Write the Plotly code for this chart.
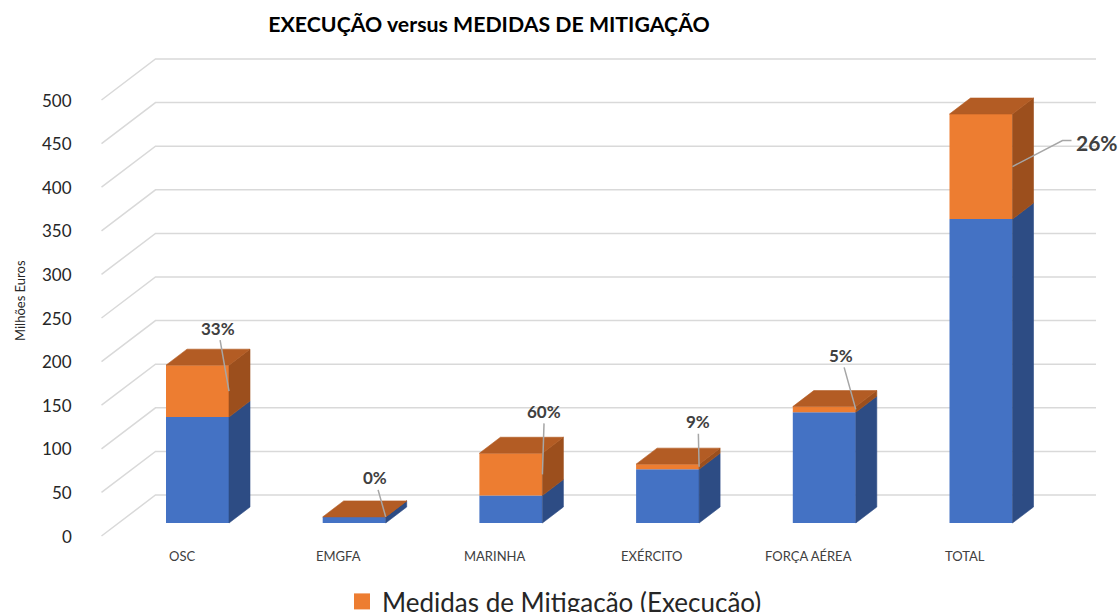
import plotly.graph_objects as go

# ---------------- data ----------------
categories = ["OSC", "EMGFA", "MARINHA", "EXÉRCITO", "FORÇA AÉREA", "TOTAL"]
execucao_restante = [121.5, 7.0, 31.5, 61.5, 127.0, 348.5]
medidas_mitigacao = [59.5, 0.0, 48.5, 6.0, 6.5, 120.5]
pct_labels = ["33%", "0%", "60%", "9%", "5%", "26%"]
y_ticks = [0, 50, 100, 150, 200, 250, 300, 350, 400, 450, 500]

# ---------------- geometry (pixel calibration) ----------------
PLOT_L, PLOT_R, PLOT_T, PLOT_B = 78, 1110, 40, 570
X0_PX, STEP_PX = 197.5, 156.7          # first bar centre, category spacing
FLOOR_PX, PPU = 523.0, 0.872           # bar floor pixel, pixels per unit
LABEL_FLOOR_PX = 536.0                 # front edge where tick labels sit
BAR_W_PX, DEPTH_DX_PX, DEPTH_DY_PX = 63.0, 21.0, 16.0
GRID_FRONT_X, GRID_BACK_X, GRID_RIGHT_X = 101.5, 155.5, 1096.0
GRID_BACK_RISE = 28.0                  # back wall above bar floor (px)
TICK_RIGHT_PX = 74.0


def xu(px):
    return (px - X0_PX) / STEP_PX


def yu(px):
    return (FLOOR_PX - px) / PPU


def xp(px):
    return (px - PLOT_L) / (PLOT_R - PLOT_L)


W = BAR_W_PX / STEP_PX
DX = DEPTH_DX_PX / STEP_PX
DY = DEPTH_DY_PX / PPU
FRONT_DROP = (LABEL_FLOOR_PX - FLOOR_PX) / PPU
BACK_RISE = GRID_BACK_RISE / PPU

FONT = "Lato"
BLUE, BLUE_SIDE = "#4472C4", "#2D4C84"
ORANGE, ORANGE_TOP, ORANGE_SIDE = "#ED7D31", "#B35C24", "#9C4F1D"
GRID = "#D9D9D9"
LEADER = "#A6A6A6"

idx = list(range(len(categories)))
tops_blue = execucao_restante
tops_total = [b + o for b, o in zip(execucao_restante, medidas_mitigacao)]

fig = go.Figure()

# front faces
fig.add_trace(go.Bar(x=idx, y=execucao_restante, base=[0] * len(idx), width=W,
                     marker=dict(color=BLUE, line=dict(width=0)),
                     name="Execução", showlegend=False, hoverinfo="skip"))
fig.add_trace(go.Bar(x=idx, y=medidas_mitigacao, base=execucao_restante, width=W,
                     marker=dict(color=ORANGE, line=dict(width=0)),
                     name="Medidas de Mitigação (Execução)", showlegend=False,
                     hoverinfo="skip"))


def side_poly(bottoms, tops):
    xs, ys = [], []
    for i, b, t in zip(idx, bottoms, tops):
        xr = i + W / 2
        xs += [xr, xr + DX, xr + DX, xr, xr, None]
        ys += [b, b + DY, t + DY, t, b, None]
    return xs, ys


def top_poly(tops):
    xs, ys = [], []
    for i, t in zip(idx, tops):
        xl, xr = i - W / 2, i + W / 2
        xs += [xl, xl + DX, xr + DX, xr, xl, None]
        ys += [t, t + DY, t + DY, t, t, None]
    return xs, ys


for (xs, ys), col in [
    (side_poly([0] * len(idx), tops_blue), BLUE_SIDE),
    (side_poly(tops_blue, tops_total), ORANGE_SIDE),
    (top_poly(tops_total), ORANGE_TOP),
]:
    fig.add_trace(go.Scatter(x=xs, y=ys, mode="lines", fill="toself",
                             fillcolor=col, line=dict(color=col, width=0.6),
                             showlegend=False, hoverinfo="skip"))

# legend entry (square marker)
fig.add_trace(go.Scatter(x=[None], y=[None], mode="markers",
                         marker=dict(symbol="square", size=16, color=ORANGE),
                         name="Medidas de Mitigação (Execução)", showlegend=True,
                         hoverinfo="skip"))

# gridlines (3D wall)
shapes = []
for v in y_ticks:
    path = (f"M {xu(GRID_FRONT_X)},{v - FRONT_DROP} "
            f"L {xu(GRID_BACK_X)},{v + BACK_RISE} "
            f"L {xu(GRID_RIGHT_X)},{v + BACK_RISE}")
    shapes.append(dict(type="path", path=path, xref="x", yref="y",
                       line=dict(color=GRID, width=1.5), layer="below"))

annotations = []
# y tick labels
for v in y_ticks:
    annotations.append(dict(x=xp(TICK_RIGHT_PX), y=v - FRONT_DROP, xref="paper",
                            yref="y", text=str(v), showarrow=False,
                            xanchor="right", yanchor="middle",
                            font=dict(family=FONT, size=17, color="#262626")))
# category labels
for i, c in zip(idx, categories):
    annotations.append(dict(x=i + xu(X0_PX - 16), y=yu(556), xref="x", yref="y",
                            text=c, showarrow=False, xanchor="center",
                            yanchor="middle",
                            font=dict(family=FONT, size=13, color="#404040")))

# percentage labels with leader lines
LABEL_OFFSETS = [(-11, -63), (-11, -39), (2, -63), (-1, -45), (-15, -54), None]
for i, b, o, t, off in zip(idx, execucao_restante, medidas_mitigacao,
                           pct_labels, LABEL_OFFSETS):
    if off is not None:
        ax_, ay_ = off
        annotations.append(dict(x=i + W / 2, y=b + o / 2, xref="x", yref="y",
                                text=f"<b>{t}</b>", showarrow=True, arrowhead=0,
                                arrowwidth=1.5, arrowcolor=LEADER, ax=ax_, ay=ay_,
                                standoff=0, startstandoff=0,
                                font=dict(family=FONT, size=17, color="#404040")))
    else:
        # elbow leader line for the large label
        x_a, y_a = i + W / 2, b + o / 2
        x_e, y_e = x_a + 50 / STEP_PX, y_a + 26 / PPU
        x_f = x_e + 9 / STEP_PX
        fig.add_trace(go.Scatter(x=[x_a, x_e, x_f], y=[y_a, y_e, y_e],
                                 mode="lines", line=dict(color=LEADER, width=1.5),
                                 showlegend=False, hoverinfo="skip"))
        annotations.append(dict(x=x_f + 2 / STEP_PX, y=y_e - 2 / PPU, xref="x",
                                yref="y", text=f"<b>{t}</b>", showarrow=False,
                                xanchor="left", yanchor="middle",
                                font=dict(family=FONT, size=21, color="#404040")))

# y-axis title
annotations.append(dict(x=xp(20), y=yu(301), xref="paper", yref="y",
                        text="Milhões Euros", textangle=-90, showarrow=False,
                        xanchor="center", yanchor="middle",
                        font=dict(family=FONT, size=13, color="#262626")))

fig.update_layout(
    width=1118, height=612,
    margin=dict(l=PLOT_L, r=1118 - PLOT_R, t=PLOT_T, b=612 - PLOT_B,
                autoexpand=False),
    paper_bgcolor="white", plot_bgcolor="white",
    barmode="overlay",
    title=dict(text="<b>EXECUÇÃO versus MEDIDAS DE MITIGAÇÃO</b>",
               x=489 / 1118, xanchor="center", xref="container",
               y=1 - 25 / 612, yanchor="middle", yref="container",
               font=dict(family=FONT, size=21.3, color="#000000")),
    xaxis=dict(range=[xu(PLOT_L), xu(PLOT_R)], showgrid=False, zeroline=False,
               showticklabels=False, showline=False, fixedrange=True),
    yaxis=dict(range=[yu(PLOT_B), yu(PLOT_T)], showgrid=False, zeroline=False,
               showticklabels=False, showline=False, fixedrange=True),
    legend=dict(orientation="h", x=xp(342), xanchor="left",
                y=(PLOT_B - 578) / (PLOT_B - PLOT_T), yanchor="top",
                font=dict(family=FONT, size=26, color="#262626"),
                bgcolor="rgba(0,0,0,0)"),
    shapes=shapes, annotations=annotations,
)

fig.write_html("out.html", config={"displayModeBar": False},
               post_script="document.body.style.margin='0';"
                           "document.body.style.overflow='hidden';")
